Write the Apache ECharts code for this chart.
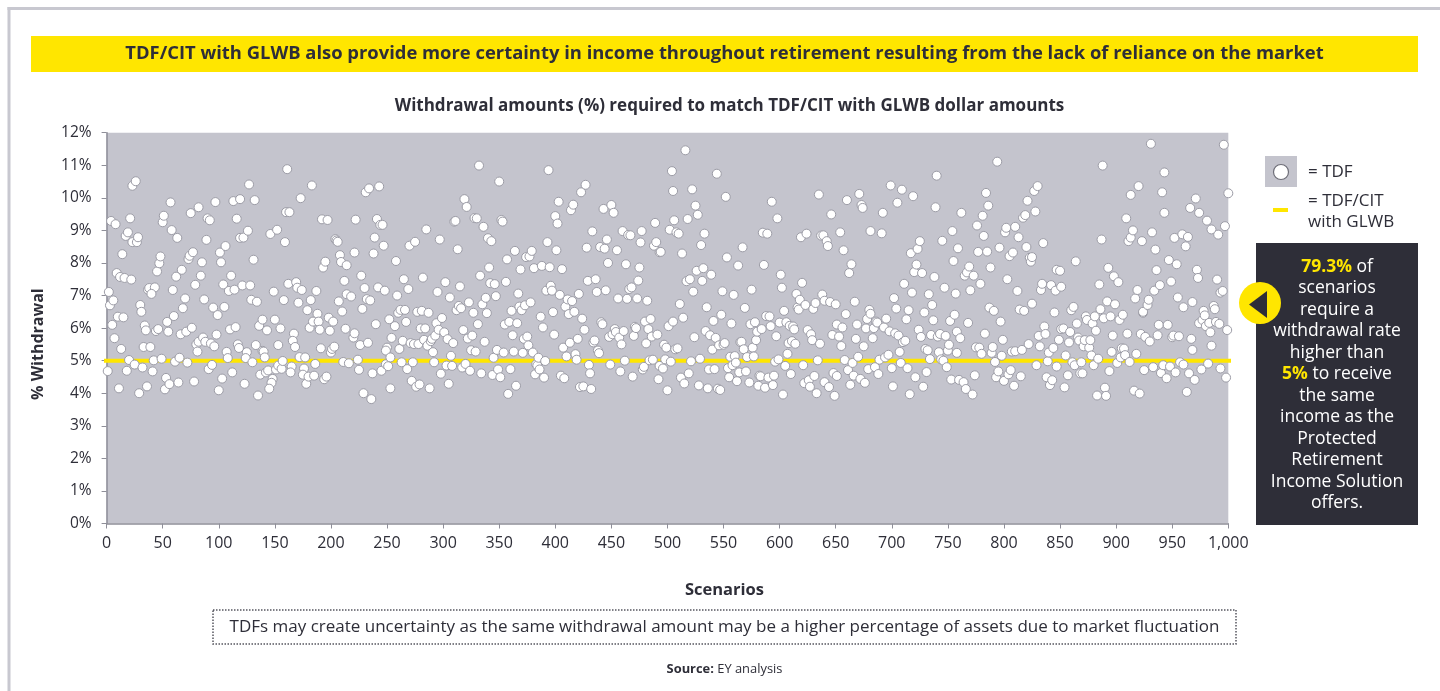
<!DOCTYPE html>
<html><head><meta charset="utf-8">
<style>html,body{margin:0;padding:0;background:#fff}#c{width:1440px;height:691px}</style>
<script src="https://cdn.jsdelivr.net/npm/echarts@6/dist/echarts.min.js"></script></head>
<body><div id="c"></div>
<script>
const tdfScenarios1to125=[[2,7.11],[3,6.70],[6,6.85],[1,4.68],[4,9.29],[8,9.19],[10,6.35],[5,6.10],[7,5.69],[13,5.36],[15,6.33],[11,4.15],[9,7.69],[12,7.57],[16,7.54],[22,7.49],[14,8.27],[17,8.83],[19,8.94],[21,9.37],[23,10.37],[26,10.51],[23,8.64],[27,8.64],[28,8.79],[20,5.02],[18,4.69],[25,4.88],[32,4.79],[29,4.00],[36,4.21],[30,6.71],[31,6.50],[37,7.18],[38,7.23],[43,7.25],[40,7.05],[34,6.08],[35,5.93],[33,5.42],[39,5.42],[41,4.67],[42,5.01],[44,5.91],[46,5.97],[45,7.74],[47,7.99],[48,8.20],[50,9.25],[51,9.45],[49,5.06],[57,9.86],[53,4.47],[52,4.12],[56,4.28],[54,6.19],[55,5.89],[58,9.01],[63,8.77],[59,7.17],[60,6.37],[62,7.58],[67,7.79],[61,4.97],[65,5.09],[64,4.33],[66,5.81],[68,6.61],[70,6.91],[71,5.89],[72,4.94],[75,9.53],[82,9.71],[73,8.12],[74,8.22],[77,8.33],[85,8.02],[84,7.61],[79,7.33],[87,6.88],[76,6.01],[78,4.36],[80,5.50],[81,5.28],[82,5.58],[86,5.71],[88,5.58],[93,5.53],[96,5.44],[98,5.80],[91,4.74],[94,4.87],[89,8.71],[90,9.37],[92,9.31],[97,9.87],[95,6.63],[99,6.40],[105,6.65],[101,8.32],[102,8.02],[106,8.52],[104,7.34],[109,7.14],[111,7.61],[114,7.18],[110,5.96],[115,6.03],[107,5.27],[108,5.08],[103,4.45],[100,4.09],[112,4.64],[113,9.90],[119,9.96],[116,9.36],[125,5.26],[124,5.08],[123,4.29],[119,8.77],[122,8.78],[121,7.31],[117,5.50],[118,5.39]];
const tdfScenarios126to256=[[127,10.41],[132,9.93],[126,8.99],[131,8.10],[128,7.31],[129,6.87],[134,6.81],[133,5.48],[130,4.95],[135,3.93],[137,4.57],[136,6.07],[139,6.26],[143,5.93],[139,5.30],[140,5.28],[141,5.10],[142,4.64],[144,4.70],[148,4.44],[147,4.32],[145,4.14],[151,4.73],[153,4.85],[156,4.75],[157,4.99],[146,8.89],[152,9.02],[149,7.12],[150,6.26],[155,5.99],[153,5.48],[158,6.86],[159,8.64],[160,9.56],[163,9.56],[161,10.88],[162,7.36],[169,7.41],[170,7.24],[174,7.17],[171,6.78],[167,5.83],[166,5.61],[168,5.42],[165,4.82],[164,4.64],[172,5.11],[177,5.10],[176,4.76],[175,4.57],[178,4.29],[180,4.51],[185,4.54],[186,4.90],[173,9.99],[183,10.38],[179,6.55],[182,6.86],[187,7.14],[181,6.01],[184,6.20],[188,6.44],[189,6.20],[190,5.95],[191,5.38],[192,9.34],[197,9.32],[193,7.86],[195,8.04],[194,4.43],[196,4.51],[198,6.32],[202,6.20],[199,5.92],[200,5.25],[201,5.36],[203,5.43],[204,8.73],[205,8.69],[206,8.65],[208,8.24],[209,8.03],[214,7.93],[212,7.45],[207,6.82],[210,6.51],[214,7.04],[218,6.97],[213,5.98],[211,4.96],[216,4.92],[220,5.71],[221,5.84],[226,5.48],[224,5.03],[225,4.72],[222,9.33],[221,8.32],[227,7.61],[230,7.23],[228,6.59],[232,6.89],[235,6.85],[233,5.55],[237,4.61],[229,4.00],[236,3.82],[231,10.17],[234,10.29],[243,10.35],[239,8.78],[238,8.29],[241,9.35],[244,9.17],[246,9.17],[247,8.53],[242,7.25],[248,7.15],[240,6.12],[245,4.69],[249,4.89],[250,5.40],[249,5.31],[252,6.27],[251,4.83],[253,4.15],[254,5.70],[253,5.10]];
const tdfScenarios257to380=[[257,6.06],[258,8.06],[259,7.00],[260,6.47],[261,5.36],[262,6.56],[263,4.95],[264,5.61],[265,7.50],[266,6.56],[267,6.19],[268,4.74],[269,7.20],[270,8.53],[271,5.54],[272,4.38],[273,4.95],[274,5.51],[275,8.65],[276,4.20],[277,6.50],[278,5.51],[279,4.27],[280,5.99],[281,6.53],[282,7.55],[283,5.64],[284,5.99],[285,9.03],[286,5.46],[287,6.47],[288,4.15],[289,5.60],[290,5.67],[291,5.26],[292,4.95],[293,5.77],[294,6.15],[295,7.11],[296,5.95],[297,8.72],[298,4.60],[299,6.31],[301,5.87],[302,7.41],[303,4.85],[304,5.66],[305,4.29],[306,6.94],[307,5.15],[308,4.84],[309,5.54],[310,9.27],[311,9.29],[312,6.55],[313,8.42],[314,6.68],[315,7.28],[316,6.61],[317,4.79],[318,5.94],[319,9.96],[320,4.90],[321,9.72],[322,5.68],[323,6.79],[324,4.69],[325,5.32],[326,5.77],[327,6.47],[328,9.38],[329,5.28],[330,9.37],[331,6.12],[332,10.99],[333,7.61],[334,4.61],[335,6.73],[336,9.11],[337,5.58],[338,6.93],[339,6.46],[340,8.76],[341,7.86],[342,7.38],[343,8.67],[344,4.56],[345,5.09],[346,7.35],[347,6.98],[348,5.33],[349,4.73],[350,10.50],[351,4.49],[352,9.32],[353,9.27],[354,5.25],[355,6.11],[356,7.42],[357,8.11],[358,3.98],[359,6.19],[360,4.74],[361,6.53],[362,5.78],[363,5.28],[364,8.37],[365,4.23],[366,6.15],[367,7.06],[368,6.66],[369,7.80],[370,6.55],[371,5.24],[372,5.67],[373,6.70],[374,8.18],[375,5.74],[376,5.47],[377,8.20],[378,6.79],[379,8.37],[380,5.25]];
const tdfScenarios381to508=[[381,7.84],[382,4.58],[383,4.89],[384,4.85],[385,5.09],[386,4.73],[387,6.35],[388,7.91],[389,6.02],[390,4.48],[391,4.99],[392,7.15],[393,8.64],[394,10.85],[395,7.87],[396,7.30],[397,7.15],[398,6.49],[399,5.80],[400,9.44],[401,8.39],[402,9.21],[403,9.88],[404,7.02],[405,4.54],[406,7.81],[407,5.40],[408,4.46],[409,6.66],[410,5.13],[411,6.88],[412,6.43],[413,5.55],[414,9.62],[415,6.83],[416,9.79],[417,6.50],[418,5.20],[419,5.03],[420,5.67],[421,7.05],[422,4.19],[423,10.17],[424,6.29],[425,4.21],[426,5.95],[427,10.40],[428,8.47],[429,7.45],[430,4.87],[431,4.61],[432,4.13],[433,8.97],[434,5.56],[435,5.62],[436,7.50],[437,7.11],[438,5.31],[439,5.23],[440,8.49],[441,6.18],[442,6.12],[443,9.66],[444,8.44],[445,7.16],[446,8.72],[447,8.00],[448,5.73],[449,4.88],[450,9.78],[451,5.81],[452,9.54],[453,5.97],[454,5.88],[455,8.39],[456,6.91],[457,5.71],[458,4.67],[459,5.50],[460,8.98],[461,5.91],[462,5.00],[463,7.96],[464,6.90],[465,8.86],[466,7.20],[467,8.85],[468,7.25],[469,4.51],[470,5.76],[471,6.04],[472,6.00],[473,6.91],[474,7.46],[475,7.86],[476,8.63],[477,8.98],[478,4.73],[479,4.81],[480,6.20],[481,5.53],[482,6.84],[483,5.97],[484,5.01],[485,6.28],[486,5.74],[487,5.03],[488,8.53],[489,9.23],[490,8.64],[491,5.80],[492,4.43],[493,8.33],[494,8.34],[493,4.84],[496,4.76],[497,5.49],[498,5.04],[499,5.40],[500,4.09],[501,6.06],[502,9.02],[503,4.97],[504,10.82],[505,10.21],[505,6.20],[506,9.31],[507,5.35],[508,8.94]];
const tdfScenarios509to634=[[509,5.38],[510,8.90],[511,6.74],[512,4.48],[513,8.29],[514,6.32],[515,4.30],[516,11.46],[517,7.44],[518,9.35],[519,4.61],[520,7.50],[521,4.98],[522,10.26],[523,7.12],[524,5.72],[525,9.76],[526,7.76],[527,9.48],[528,4.24],[529,5.06],[530,8.55],[531,7.45],[532,7.84],[533,8.90],[534,5.91],[535,6.64],[536,4.15],[537,4.73],[538,5.78],[539,7.64],[540,5.34],[541,6.22],[542,4.74],[543,5.70],[544,10.74],[545,4.14],[546,5.47],[547,4.10],[548,6.41],[549,7.13],[550,5.49],[551,5.54],[552,10.03],[553,8.17],[554,4.77],[555,4.49],[556,5.12],[557,6.14],[558,4.86],[559,7.02],[560,5.14],[561,4.94],[562,4.37],[563,7.92],[564,4.64],[565,5.57],[566,5.58],[567,8.48],[568,5.35],[569,6.62],[570,4.67],[571,5.11],[573,4.33],[574,6.12],[575,7.18],[576,5.40],[577,5.13],[578,6.18],[579,5.63],[580,5.89],[581,4.23],[582,4.54],[583,4.52],[584,5.97],[585,8.93],[586,7.94],[587,4.17],[588,6.37],[589,8.90],[590,4.48],[591,6.36],[592,6.06],[593,9.88],[594,4.25],[595,4.54],[596,4.97],[597,5.75],[598,9.37],[599,5.04],[600,6.17],[601,7.64],[602,7.24],[603,3.96],[604,6.53],[605,4.84],[606,6.18],[607,5.21],[608,5.54],[609,6.07],[610,4.59],[611,5.60],[612,6.05],[613,5.96],[614,5.52],[615,7.05],[616,6.63],[617,6.57],[618,6.87],[619,8.79],[620,7.39],[621,4.86],[622,4.31],[623,6.71],[624,8.90],[625,5.94],[626,4.40],[627,4.20],[628,5.81],[629,5.63],[630,6.59],[631,4.53],[632,6.77],[633,4.00],[634,5.01]];
const tdfScenarios635to761=[[635,10.10],[636,5.52],[637,8.84],[638,7.03],[639,8.85],[640,6.84],[640,4.34],[642,8.67],[643,8.52],[644,4.19],[645,6.80],[646,9.49],[647,5.79],[648,4.62],[649,3.92],[650,6.73],[651,4.53],[651,6.11],[653,5.74],[654,8.94],[655,5.45],[656,6.02],[657,8.39],[658,5.02],[659,6.43],[660,9.93],[661,4.71],[662,7.69],[663,4.26],[664,7.96],[665,4.93],[666,4.54],[667,6.81],[668,5.67],[669,6.11],[670,5.12],[671,10.12],[672,4.44],[673,9.78],[674,9.69],[675,5.44],[676,4.32],[677,5.99],[678,6.28],[679,4.74],[680,6.56],[681,8.98],[681,6.44],[683,5.69],[684,6.00],[685,4.80],[686,6.20],[687,6.17],[688,4.59],[689,5.03],[691,8.91],[692,9.54],[693,6.02],[694,5.10],[695,6.29],[697,5.18],[698,5.90],[699,10.38],[700,4.77],[701,4.21],[702,6.92],[703,5.84],[704,6.60],[705,9.85],[706,5.77],[707,5.27],[708,4.93],[709,10.25],[710,5.57],[711,7.36],[712,5.61],[713,6.27],[714,4.77],[715,6.55],[716,3.97],[717,8.30],[718,7.09],[719,10.05],[720,7.72],[721,4.49],[722,7.95],[723,8.43],[724,5.95],[725,8.67],[726,5.73],[727,7.69],[728,4.20],[729,6.48],[730,5.36],[731,4.65],[732,5.32],[733,7.04],[734,5.05],[735,5.79],[736,6.71],[737,6.24],[738,7.57],[739,9.71],[740,10.68],[741,5.74],[742,5.26],[743,5.82],[744,5.04],[745,8.68],[746,5.00],[747,7.24],[748,5.76],[749,4.80],[750,5.31],[751,5.49],[752,6.22],[753,4.42],[754,8.98],[755,8.06],[756,6.41],[757,7.06],[758,5.24],[758,5.89],[759,8.45],[762,9.54],[760,4.41],[761,5.69]];
const tdfScenarios764to880=[[764,4.34],[765,7.61],[766,4.13],[767,7.71],[768,6.16],[769,7.89],[770,7.16],[772,3.96],[773,7.61],[774,4.55],[775,5.41],[776,9.15],[777,8.34],[778,5.40],[779,7.36],[780,5.21],[781,9.45],[782,8.83],[783,5.83],[784,10.15],[785,8.35],[786,9.76],[787,6.63],[788,7.86],[789,5.24],[790,5.42],[791,6.53],[792,4.96],[793,4.49],[794,11.11],[795,4.67],[796,8.47],[797,6.20],[798,5.15],[799,5.64],[800,4.38],[801,8.94],[802,9.08],[803,7.50],[804,4.58],[805,8.21],[806,4.71],[807,5.28],[808,8.32],[809,4.23],[810,5.29],[810,9.11],[812,7.14],[813,8.79],[814,6.57],[815,4.52],[816,5.33],[817,9.39],[818,6.53],[819,9.47],[820,8.49],[821,9.91],[822,5.51],[823,8.16],[824,8.04],[825,8.18],[825,6.75],[827,10.21],[828,9.58],[829,4.86],[830,10.36],[831,5.76],[832,5.44],[833,7.17],[834,7.36],[835,8.61],[836,6.05],[837,5.82],[838,4.49],[839,4.98],[840,5.25],[841,4.25],[842,7.32],[843,4.40],[844,5.39],[845,6.48],[846,7.15],[847,4.82],[847,7.79],[849,5.64],[850,7.76],[851,7.27],[851,5.97],[853,5.99],[854,4.18],[855,5.16],[857,4.55],[858,5.56],[859,5.88],[860,6.55],[861,4.95],[862,6.65],[863,4.86],[864,8.05],[865,6.14],[866,5.71],[867,5.62],[868,4.61],[869,4.95],[870,4.61],[871,5.44],[872,5.63],[873,6.36],[874,6.25],[876,5.40],[877,5.63],[878,5.16],[879,6.14],[880,4.86]];
const tdfScenarios881to1000=[[881,6.36],[882,5.92],[883,3.93],[884,5.06],[885,7.34],[886,6.58],[887,8.72],[888,10.99],[889,6.30],[890,4.17],[891,3.92],[892,6.82],[893,7.85],[894,4.68],[895,6.36],[896,5.27],[897,5.77],[898,7.59],[899,6.73],[901,4.93],[902,7.41],[903,6.25],[904,5.10],[905,5.38],[906,6.41],[907,5.37],[908,5.17],[909,9.37],[910,5.83],[911,8.67],[912,4.96],[913,8.78],[913,10.09],[915,9.00],[916,4.08],[917,6.91],[918,5.21],[919,7.17],[920,10.36],[921,3.99],[922,5.82],[923,8.67],[924,6.47],[924,6.50],[925,4.71],[926,5.73],[928,6.71],[929,6.87],[930,5.59],[931,11.66],[932,8.94],[933,4.80],[934,7.15],[935,8.41],[936,7.78],[937,5.78],[938,6.10],[939,7.32],[940,4.62],[941,10.17],[942,4.86],[943,10.78],[943,9.54],[945,4.46],[946,6.10],[947,8.09],[948,4.82],[949,7.43],[950,5.72],[951,5.77],[952,8.77],[953,4.64],[954,7.96],[955,6.94],[956,5.75],[957,4.95],[960,6.64],[959,8.88],[960,4.88],[962,8.51],[963,4.04],[964,8.80],[965,4.61],[966,9.69],[967,5.67],[968,5.33],[968,6.80],[970,4.41],[971,9.98],[972,7.79],[973,7.54],[974,9.54],[974,6.15],[976,4.73],[977,6.25],[978,6.53],[979,6.39],[980,6.06],[981,9.30],[982,4.91],[983,6.16],[984,5.87],[985,9.03],[985,5.46],[987,6.68],[988,6.58],[989,6.19],[990,7.49],[991,8.87],[992,6.13],[993,7.09],[993,4.76],[995,7.14],[996,11.63],[997,9.13],[998,4.48],[999,5.94],[1000,10.14]];
const glwbLine=[[-3,5],[1003,5]];
const bannerText='TDF/CIT with GLWB also provide more certainty in income throughout retirement resulting from the lack of reliance on the market';
const chartTitle='Withdrawal amounts (%) required to match TDF/CIT with GLWB dollar amounts';
const noteText='TDFs may create uncertainty as the same withdrawal amount may be a higher percentage of assets due to market fluctuation';
const calloutText='{y|79.3%} of\nscenarios\nrequire a\nwithdrawal rate\nhigher than\n{y|5%} to receive\nthe same\nincome as the\nProtected\nRetirement\nIncome Solution\noffers.';

const INK='#2e2e38',YEL='#ffe600',GREY='#c4c4cd',FF='"Open Sans","Noto Sans",sans-serif';
const tdfAll=[].concat(tdfScenarios1to125,tdfScenarios126to256,tdfScenarios257to380,tdfScenarios381to508,tdfScenarios509to634,tdfScenarios635to761,tdfScenarios764to880,tdfScenarios881to1000);
const chart=echarts.init(document.getElementById('c'),null,{renderer:'canvas'});
const txt=(x,y,text,o)=>({type:'text',x,y,silent:true,style:Object.assign({text,fill:INK,fontFamily:FF,fontSize:15,align:'center',verticalAlign:'middle'},o||{})});
chart.setOption({
  animation:false,backgroundColor:'#fff',
  title:{text:chartTitle,left:724.5,top:93,textAlign:'center',textStyle:{color:INK,fontFamily:FF,fontSize:17,fontWeight:'bold'}},
  grid:{left:106.6,right:211.7,top:132.7,bottom:167.5,show:true,backgroundColor:GREY,borderWidth:0,containLabel:false},
  xAxis:{type:'value',min:0,max:1000,interval:50,name:'Scenarios',nameLocation:'middle',nameGap:58,
    nameTextStyle:{color:INK,fontFamily:FF,fontSize:16.5,fontWeight:'bold',padding:[0,0,0,114]},
    axisLine:{show:true,lineStyle:{color:'#8e8e98',width:1.5}},axisTick:{show:true,length:5,lineStyle:{color:'#8e8e98'}},
    axisLabel:{color:INK,fontFamily:FF,fontSize:16,margin:12,showMinLabel:true,showMaxLabel:true,hideOverlap:false,formatter:v=>v>=1000?'1,000':String(v)},splitLine:{show:false}},
  yAxis:{type:'value',min:0,max:12,interval:1,name:'% Withdrawal',nameLocation:'middle',nameGap:60,nameRotate:90,
    nameTextStyle:{color:INK,fontFamily:FF,fontSize:16,fontWeight:'bold',padding:[0,32,0,0]},
    axisLine:{show:true,lineStyle:{color:'#8e8e98',width:1.5}},axisTick:{show:true,length:5,lineStyle:{color:'#8e8e98'}},
    axisLabel:{color:INK,fontFamily:FF,fontSize:15.5,margin:15,formatter:'{value}%'},splitLine:{show:false}},
  series:[
    {name:'TDF/CIT with GLWB',type:'line',data:glwbLine,symbol:'none',clip:false,z:2,lineStyle:{color:YEL,width:4},silent:true},
    {name:'TDF',type:'scatter',data:tdfAll,symbol:'circle',symbolSize:9,z:3,clip:false,large:false,progressive:0,
      itemStyle:{color:'#fff',borderColor:'#9c9ca6',borderWidth:1,opacity:1},silent:true}
  ],
  graphic:{elements:[
    {type:'rect',silent:true,shape:{x:7.5,y:7,width:1433,height:3},style:{fill:'#c8c8d0'}},
    {type:'rect',silent:true,shape:{x:7.5,y:7,width:3,height:684},style:{fill:'#c8c8d0'}},
    {type:'rect',silent:true,shape:{x:31,y:36,width:1387,height:36},style:{fill:YEL}},
    txt(724.5,54,bannerText,{fontWeight:'bold',fontSize:18.4}),
    {type:'rect',silent:true,shape:{x:213,y:610,width:1023,height:34},style:{fill:'transparent',stroke:'#55555f',lineWidth:1.5,lineDash:[1.5,1.5]}},
    txt(724.5,627,noteText,{fontSize:17}),
    txt(724.5,669.5,'{b|Source:} EY analysis',{fontSize:12.9,rich:{b:{fontFamily:FF,fontSize:12.9,fontWeight:'bold',fill:INK}}}),
    {type:'rect',silent:true,shape:{x:1265,y:156,width:32,height:31},style:{fill:GREY}},
    {type:'circle',silent:true,shape:{cx:1281,cy:172,r:7.5},style:{fill:'#fff',stroke:'#6e6e78',lineWidth:1.2}},
    txt(1308,172,'= TDF',{align:'left',fontSize:17}),
    {type:'rect',silent:true,shape:{x:1273,y:208,width:15,height:4},style:{fill:YEL}},
    txt(1308,201.5,'= TDF/CIT',{align:'left',fontSize:17}),
    txt(1308,222,'with GLWB',{align:'left',fontSize:17}),
    {type:'rect',silent:true,shape:{x:1256,y:243,width:162,height:282},style:{fill:INK}},
    txt(1337,385,calloutText,{fill:'#fff',fontSize:17.5,lineHeight:21.5,rich:{y:{fill:YEL,fontFamily:FF,fontSize:17.5,fontWeight:'bold',lineHeight:21.5}}}),
    {type:'circle',silent:true,shape:{cx:1260,cy:303,r:21},style:{fill:YEL}},
    {type:'polygon',silent:true,shape:{points:[[1249,304.5],[1267,291],[1267,318]]},style:{fill:INK}}
  ]}
});
</script></body></html>
